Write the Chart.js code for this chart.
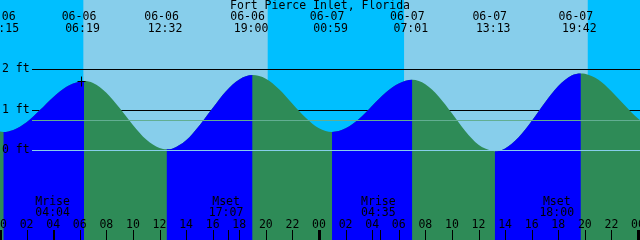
<!DOCTYPE html>
<html>
<head>
<meta charset="utf-8">
<script src="https://cdn.jsdelivr.net/npm/chart.js@4"></script>
<style>
  body { margin: 0; background: #00BFFF; }
  #wrap { width: 640px; height: 240px; }
</style>
</head>
<body>
<div id="wrap"><canvas id="myChart" width="640" height="240"></canvas></div>
<script>
const title = 'Fort Pierce Inlet, Florida';

// hours since 06-06 00:00, tide height in ft
const tideHours = [0, 0.25, 1, 2, 3, 4, 5, 6, 6.32, 7, 8, 9, 10, 11, 12, 12.53, 13, 14, 15, 16, 17, 18, 19,
  20, 21, 22, 23, 24, 24.98, 26, 27, 28, 29, 30, 31.02, 32, 33, 34, 35, 36, 37, 37.22,
  38, 39, 40, 41, 42, 43, 43.7, 44, 45, 46, 47, 48, 49];
const tideFeet = [0.46, 0.45, 0.50, 0.69, 0.99, 1.31, 1.57, 1.70, 1.71, 1.66, 1.42, 1.04, 0.62, 0.26, 0.05, 0.02, 0.04, 0.24, 0.61, 1.04, 1.46, 1.75, 1.86,
  1.77, 1.51, 1.15, 0.80, 0.54, 0.45, 0.54, 0.77, 1.10, 1.42, 1.65, 1.74, 1.63, 1.33, 0.91, 0.47, 0.13, -0.02, -0.03,
  0.04, 0.31, 0.72, 1.18, 1.59, 1.85, 1.90, 1.89, 1.75, 1.46, 1.11, 0.78, 0.56];

// high / low labels
const extremeHours = [0.25, 6.32, 12.53, 19.0, 24.98, 31.02, 37.22, 43.7];
const extremeDates = ['06-06', '06-06', '06-06', '06-06', '06-07', '06-07', '06-07', '06-07'];
const extremeTimes = ['00:15', '06:19', '12:32', '19:00', '00:59', '07:01', '13:13', '19:42'];

// sunrise, sunset, sunrise, sunset
const sunHours = [6.27, 20.14, 30.40, 44.22];

const moonHours = [4.07, 17.12, 28.58, 42.0];
const moonNames = ['Mrise', 'Mset', 'Mrise', 'Mset'];
const moonTimes = ['04:04', '17:07', '04:35', '18:00'];

const hourTicks = [0, 2, 4, 6, 8, 10, 12, 14, 16, 18, 20, 22, 24, 26, 28, 30, 32, 34, 36, 38, 40, 42, 44, 46, 48];
const hourLabels = ['00', '02', '04', '06', '08', '10', '12', '14', '16', '18', '20', '22',
  '00', '02', '04', '06', '08', '10', '12', '14', '16', '18', '20', '22', '00'];

const feetLevels = [2, 1, 0];
const feetLabels = ['2 ft', '1 ft', '0 ft'];
const meanLevel = 0.74;
const nowHour = 6.1;
const nowFeet = 1.70;

const nightColor = '#00BFFF';
const dayColor = '#87CEEB';
const riseColor = '#0000FF';
const fallColor = '#2E8B57';
const font = '11.5px "DejaVu Sans Mono", "Liberation Mono", monospace';

const tidePoints = tideHours.map((h, i) => ({ x: h, y: tideFeet[i] }));

const backPlugin = {
  id: 'backPlugin',
  beforeDatasetsDraw(chart) {
    const { ctx, chartArea, scales: { x, y } } = chart;
    ctx.save();
    ctx.fillStyle = nightColor;
    ctx.fillRect(chartArea.left, chartArea.top, chartArea.width, chartArea.height);
    ctx.fillStyle = dayColor;
    for (let i = 0; i < sunHours.length; i += 2) {
      const x0 = x.getPixelForValue(sunHours[i]);
      const x1 = x.getPixelForValue(sunHours[i + 1]);
      ctx.fillRect(x0, chartArea.top, x1 - x0, chartArea.height);
    }
    ctx.strokeStyle = '#000';
    ctx.lineWidth = 1;
    feetLevels.forEach(level => {
      if (level === 0) return;
      const py = Math.round(y.getPixelForValue(level)) + 0.5;
      ctx.beginPath();
      ctx.moveTo(32, py);
      ctx.lineTo(chartArea.right, py);
      ctx.stroke();
    });
    ctx.restore();
  },
  afterDatasetsDraw(chart) {
    const { ctx, chartArea, scales: { x, y } } = chart;
    ctx.save();
    ctx.lineWidth = 1;

    let py = Math.round(y.getPixelForValue(0)) + 0.5;
    ctx.strokeStyle = '#87CEEB';
    ctx.beginPath(); ctx.moveTo(32, py); ctx.lineTo(chartArea.right, py); ctx.stroke();

    py = Math.round(y.getPixelForValue(meanLevel)) + 0.5;
    ctx.strokeStyle = '#62AE92';
    ctx.beginPath(); ctx.moveTo(32, py); ctx.lineTo(chartArea.right, py); ctx.stroke();

    ctx.fillStyle = '#000';
    ctx.strokeStyle = '#000';
    ctx.font = font;
    ctx.textBaseline = 'middle';

    ctx.textAlign = 'left';
    feetLevels.forEach((level, i) => {
      ctx.fillText(feetLabels[i], 2, y.getPixelForValue(level));
    });

    ctx.textAlign = 'center';
    ctx.fillText(title, 320, 6);

    extremeHours.forEach((h, i) => {
      const px = x.getPixelForValue(h);
      ctx.fillText(extremeDates[i], px - 5, 17);
      ctx.fillText(extremeTimes[i], px - 1.5, 29);
    });

    moonHours.forEach((h, i) => {
      const px = x.getPixelForValue(h);
      ctx.fillText(moonNames[i], px - 1.5, 202);
      ctx.fillText(moonTimes[i], px - 1.5, 213.5);
      ctx.fillRect(Math.round(px), 230, 1, 10);
    });

    hourTicks.forEach((h, i) => {
      const px = x.getPixelForValue(h);
      ctx.fillText(hourLabels[i], px, 225);
      if (h % 24 === 0) {
        ctx.fillRect(Math.round(px) - 1, 230, 3, 10);
      } else {
        ctx.fillRect(Math.round(px), 230, 1, 10);
      }
    });

    // now marker
    const nx = Math.round(x.getPixelForValue(nowHour)) + 0.5;
    const ny = Math.round(y.getPixelForValue(nowFeet)) + 0.5;
    ctx.beginPath();
    ctx.moveTo(nx - 4, ny); ctx.lineTo(nx + 4, ny);
    ctx.moveTo(nx, ny - 5); ctx.lineTo(nx, ny + 5);
    ctx.stroke();

    ctx.restore();
  }
};

const myChart = new Chart(document.getElementById('myChart'), {
  type: 'line',
  data: {
    datasets: [
      {
        // rising (flood) parts on top
        data: tidePoints,
        borderWidth: 0,
        borderColor: 'rgba(0,0,0,0)',
        pointRadius: 0,
        cubicInterpolationMode: 'monotone',
        fill: 'start',
        backgroundColor: riseColor,
        segment: {
          backgroundColor: ctx => ctx.p1.parsed.y >= ctx.p0.parsed.y ? riseColor : 'rgba(0,0,0,0)'
        }
      },
      {
        // whole tide in ebb colour underneath
        data: tidePoints,
        borderWidth: 0,
        borderColor: 'rgba(0,0,0,0)',
        pointRadius: 0,
        cubicInterpolationMode: 'monotone',
        fill: 'start',
        backgroundColor: fallColor
      }
    ]
  },
  options: {
    responsive: false,
    animation: false,
    events: [],
    layout: { padding: 0 },
    plugins: { legend: { display: false }, tooltip: { enabled: false } },
    scales: {
      x: { type: 'linear', min: 0, max: 48.15, display: false },
      y: { min: -2.23, max: 3.72, display: false }
    }
  },
  plugins: [backPlugin]
});
</script>
</body>
</html>
